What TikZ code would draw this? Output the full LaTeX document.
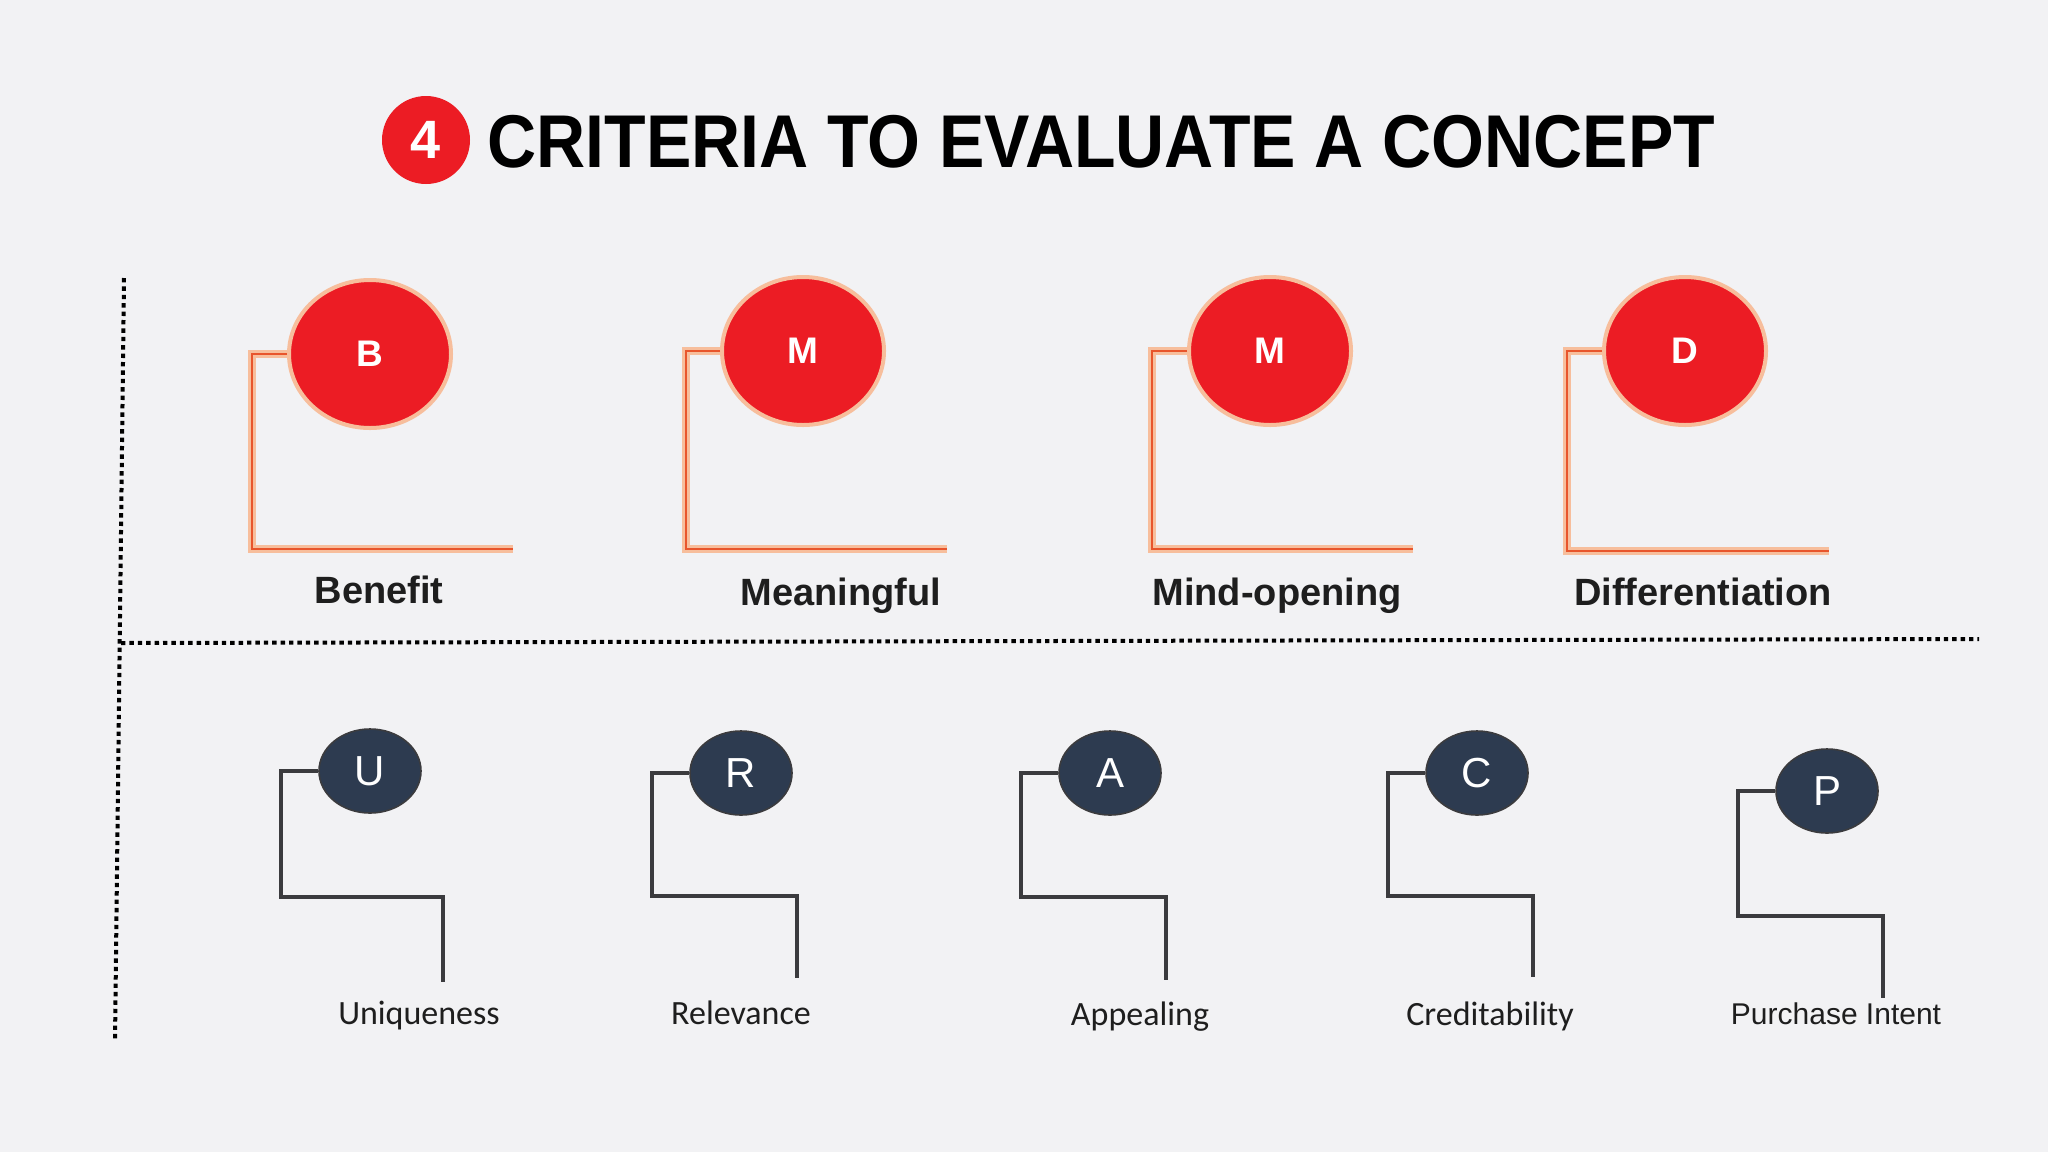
\documentclass[tikz,border=0pt]{standalone}
\usepackage{fontspec}
\setmainfont{Liberation Sans}
\newfontfamily\carlito{Carlito}
\usetikzlibrary{shapes.geometric}
\definecolor{bgrey}{HTML}{F2F2F4}
\definecolor{ballred}{HTML}{EC1C24}
\definecolor{glow}{HTML}{F7BE9C}
\definecolor{wire}{HTML}{E8552C}
\definecolor{navy}{HTML}{2D3B50}
\definecolor{steel}{HTML}{3B3B3E}
\definecolor{ink}{HTML}{1E1E1E}
\tikzset{
  redball/.style={ellipse, fill=ballred, draw=glow, line width=2pt, minimum width=81pt,
    minimum height=74pt, inner sep=0, text=white, font=\bfseries\fontsize{18.5}{18.5}\selectfont},
  navyball/.style={ellipse, fill=navy, draw=steel, line width=0.8pt, minimum width=51pt,
    minimum height=42pt, inner sep=0, text=white, font=\fontsize{21}{21}\selectfont},
  bigword/.style={anchor=base, inner sep=0, text=ink, font=\bfseries\fontsize{19}{19}\selectfont},
  smallword/.style={anchor=base, inner sep=0, text=ink, font=\carlito\fontsize{17}{17}\selectfont},
  glowline/.style={glow, line width=4pt},
  wireline/.style={wire, line width=1pt},
  barline/.style={steel, line width=2pt},
  dotline/.style={black, line width=2pt, dash pattern=on 2.2pt off 2pt},
}
\begin{document}
\begin{tikzpicture}[x=0.5pt, y=-0.5pt]

\fill[bgrey] (0,0) rectangle (2048,1152);

% title
\node[circle, fill=ballred, minimum size=44pt, inner sep=0, text=white,
  font=\bfseries\fontsize{27}{27}\selectfont] (four) at (426,140) {4};
\node[anchor=base west, inner sep=0, text=black, font=\bfseries\fontsize{34}{34}\selectfont]
  (title) at (487,167) {\scalebox{1}[1.1]{CRITERIA TO EVALUATE A CONCEPT}};

% frame
\coordinate (vtop) at (124,278);
\coordinate (vbot) at (115,1041);
\coordinate (hleft) at (121,643);
\coordinate (hright) at (1979,639);
\draw[dotline] (vtop) -- (vbot);
\draw[dotline] (hleft) -- (hright);

% upper row
\coordinate (Bc) at (252,549); \coordinate (Be) at (513,549);
\coordinate (Mc) at (686,549); \coordinate (Me) at (947,549);
\coordinate (Oc) at (1152,549); \coordinate (Oe) at (1413,549);
\coordinate (Dc) at (1567,551); \coordinate (De) at (1829,551);

\draw[glowline] (370,354) -| (Bc) -- (Be);
\draw[glowline] (803,351) -| (Mc) -- (Me);
\draw[glowline] (1270,351) -| (Oc) -- (Oe);
\draw[glowline] (1685,351) -| (Dc) -- (De);

\node[redball] (B) at (370,354) {B};
\node[redball] (M) at (803,351) {M};
\node[redball] (O) at (1270,351) {M};
\node[redball] (D) at (1685,351) {D};

\draw[wireline] (B.west) -| (Bc) -- (Be);
\draw[wireline] (M.west) -| (Mc) -- (Me);
\draw[wireline] (O.west) -| (Oc) -- (Oe);
\draw[wireline] (D.west) -| (Dc) -- (De);

\node[bigword] (benefit) at (379,603) {Benefit};
\node[bigword] (meaningful) at (841,605) {Meaningful};
\node[bigword] (mindopen) at (1277,605) {Mind-opening};
\node[bigword] (differ) at (1703,605) {Differentiation};

% lower row
\node[navyball] (U) at (370,771) {U};
\node[navyball] (R) at (741,773) {R};
\node[navyball] (A) at (1110,773) {A};
\node[navyball] (C) at (1477,773) {C};
\node[navyball] (P) at (1827,791) {P};

\coordinate (Uc) at (281,897);  \coordinate (Ue) at (443,982);
\coordinate (Rc) at (652,896);  \coordinate (Re) at (797,978);
\coordinate (Ac) at (1021,897); \coordinate (Ae) at (1166,980);
\coordinate (Cc) at (1388,896); \coordinate (Ce) at (1533,977);
\coordinate (Pc) at (1738,916); \coordinate (Pe) at (1883,998);

\draw[barline] (U.west) -| (Uc) -| (Ue);
\draw[barline] (R.west) -| (Rc) -| (Re);
\draw[barline] (A.west) -| (Ac) -| (Ae);
\draw[barline] (C.west) -| (Cc) -| (Ce);
\draw[barline] (P.west) -| (Pc) -| (Pe);

\node[smallword] (unique) at (419,1024) {Uniqueness};
\node[smallword] (relev) at (741,1024) {Relevance};
\node[smallword] (appeal) at (1140,1025) {Appealing};
\node[smallword] (credit) at (1490,1025) {Creditability};
\node[smallword, font=\fontsize{15}{15}\selectfont] (intent) at (1836,1024) {Purchase Intent};

\end{tikzpicture}
\end{document}
